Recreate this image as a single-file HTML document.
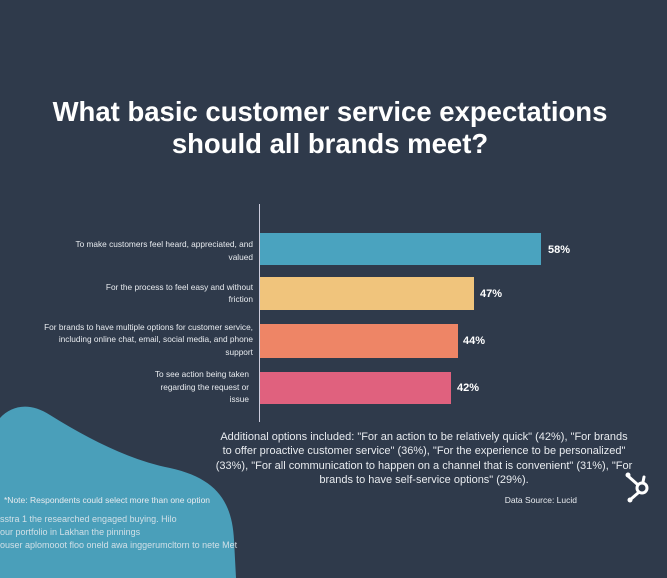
<!DOCTYPE html>
<html><head><meta charset="utf-8"><style>
html,body{margin:0;padding:0;background:#2f3a4b;}
svg{display:block;font-family:"Liberation Sans",sans-serif;}
</style></head><body>
<svg width="667" height="578" viewBox="0 0 667 578" xmlns="http://www.w3.org/2000/svg">
<rect width="667" height="578" fill="#2f3a4b"/>
<path d="M0,418 C12,405 30,402 50,415 C90,440 130,460 170,468 C215,478 232,500 234,540 L236,578 L0,578 Z" fill="#4a9fba"/>
<text x="330" y="121" text-anchor="middle" fill="#fff" font-size="27.5" font-weight="bold">What basic customer service expectations</text>
<text x="330" y="153" text-anchor="middle" fill="#fff" font-size="27.5" font-weight="bold">should all brands meet?</text>
<line x1="259.5" y1="204" x2="259.5" y2="422" stroke="#ccd" stroke-width="1"/>
<rect x="260" y="233" width="281" height="32" fill="#4aa3bf"/>
<rect x="260" y="277" width="214" height="33" fill="#f0c47c"/>
<rect x="260" y="324" width="198" height="34" fill="#ee8566"/>
<rect x="260" y="372" width="191" height="32" fill="#e0617e"/>
<g fill="#fff" font-size="11" font-weight="bold">
<text x="548" y="253">58%</text>
<text x="480" y="297">47%</text>
<text x="463" y="344">44%</text>
<text x="457" y="391">42%</text>
</g>
<g fill="#e8ebef" font-size="8.3" text-anchor="end">
<text x="253" y="247">To make customers feel heard, appreciated, and</text>
<text x="253" y="260">valued</text>
<text x="253" y="290">For the process to feel easy and without</text>
<text x="253" y="302">friction</text>
<text x="253" y="330">For brands to have multiple  options for customer service,</text>
<text x="253" y="342">including online chat, email, social media, and phone</text>
<text x="253" y="355">support</text>
<text x="249" y="377">To see action being taken</text>
<text x="249" y="390">regarding the request or</text>
<text x="249" y="402">issue</text>
</g>
<g fill="#e8ebef" font-size="11" text-anchor="middle">
<text x="424" y="440">Additional options included: "For an action to be relatively quick" (42%), "For brands</text>
<text x="424" y="454">to offer proactive customer service" (36%), "For the experience to be personalized"</text>
<text x="424" y="469">(33%), "For all communication to happen on a channel that is convenient" (31%), "For</text>
<text x="424" y="483">brands to have self-service options" (29%).</text>
</g>
<text x="4" y="503" fill="#e8ebef" font-size="8.5">*Note: Respondents could select more than one option</text>
<text x="577" y="503" fill="#e8ebef" font-size="8.5" text-anchor="end">Data Source: Lucid</text>
<g fill="#e8ebef" font-size="9" opacity="0.85">
<text x="0" y="522">sstra 1 the researched engaged buying. Hilo</text>
<text x="0" y="535">  our portfolio in Lakhan  the pinnings</text>
<text x="0" y="548">ouser  aplomooot floo oneld awa inggerumcltorn to nete Met</text>
</g>
<g stroke="#fff" stroke-width="3" fill="none" stroke-linecap="round">
<circle cx="642" cy="488" r="5"/>
<line x1="637" y1="484" x2="628" y2="476"/>
<line x1="638" y1="493" x2="631" y2="499"/>
<line x1="643" y1="482" x2="644" y2="477"/>
</g>
<circle cx="628" cy="475" r="2.5" fill="#fff"/>
<circle cx="630" cy="500" r="2.5" fill="#fff"/>
</svg>
</body></html>
